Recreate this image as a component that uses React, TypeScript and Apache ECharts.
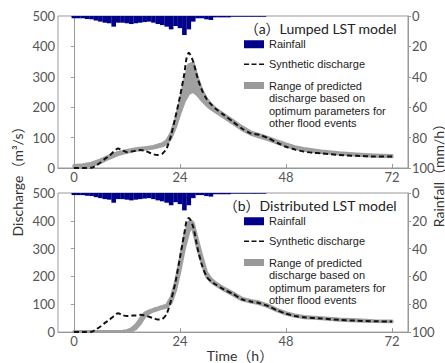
import React, { useEffect, useRef } from 'react';
import * as echarts from 'echarts';

// ---------- data ----------
const RAIN_HOURS = [0,1,2,3,4,5,6,7,8,9,10,11,12,13,14,15,16,17,18,19,20,21,22,23,24,25,26,27,28,29,30,31,32,33,34,35,36,37,38,39,40,41,42,43];
const RAIN = [1.5,1.5,1.5,2,2.2,3,3.7,4.4,4.8,7,4.4,4.4,4.8,5.3,4.8,4.4,4,3.7,4.4,5.3,6,7,8.8,6.6,8,12.5,8.8,3.7,1.5,1.5,2.2,2.6,0.9,0.9,0.9,0.9,0.5,0.5,0.5,0.5,0.5,0.5,0.5,0.5];

// (a) Lumped LST model
const SYN_A_HOURS = [0,2,4,5,6,7,8,9,10,11,12,13,14,15,16,17,18,19,20,21,22,23,24,25,25.5,26,27,28,29,30,31,32,34,36,38,40,42,44,46,48,50,52,54,56,60,64,68,72];
const SYN_A = [0,0,1,8,18,30,40,54,64,58,52,54,57,59,57,51,45,43,47,65,108,169,235,311,362,379,350,295,255,228,210,196,174,152,130,114,109,98,83,70,61,54,50,48,43,40,38,38];
const BAND_A_HOURS = [0,2,4,6,8,10,12,14,16,18,20,21,22,23,24,25,26,27,28,29,30,31,32,34,36,38,40,42,44,46,48,50,52,56,60,64,68,72];
const LOW_A = [0,3,8,18,32,44,52,58,62,66,73,80,100,135,180,220,245,252,240,222,207,195,185,166,146,127,111,102,93,82,72,64,58,51,46,42,39,37];
const UP_A = [8,11,16,27,40,51,58,63,67,71,80,90,115,160,215,285,340,345,295,255,228,210,196,176,156,136,119,110,100,89,79,70,64,56,50,46,43,41];

// (b) Distributed LST model
const SYN_B_HOURS = [0,2,4,5,6,7,8,9,10,11,12,13,14,15,16,17,18,19,20,21,22,23,24,25,25.5,26,27,28,29,30,31,32,34,36,38,40,42,44,46,48,50,52,56,60,64,68,72];
const SYN_B = [0,0,1,10,20,33,44,57,68,61,58,59,60,62,60,55,50,45,47,66,115,181,268,356,400,410,378,300,240,200,183,172,153,137,118,110,104,93,78,66,58,53,49,44,41,39,38];
const BAND_B_HOURS = [0,4,8,10,11,12,13,14,15,16,17,18,19,20,21,22,23,24,25,26,26.5,27,28,29,30,31,32,34,36,38,40,42,44,46,48,50,52,56,60,64,68,72];
const LOW_B = [0,0,0,0,0,1,4,12,30,55,68,76,81,86,90,105,150,220,300,360,380,365,300,245,200,182,170,151,134,116,108,102,91,76,65,57,52,48,43,40,38,37];
const UP_B = [2,2,2,2,3,5,12,25,48,68,76,82,87,92,97,125,180,260,345,395,400,392,330,270,215,192,178,158,141,122,114,108,97,82,70,62,56,52,47,44,41,40];

const X_TICKS = [0, 24, 48, 72];
const RAIN_NAME = 'Rainfall';
const SYN_NAME = 'Synthetic discharge';
const RANGE = 'Range of predicted discharge based on optimum parameters for other flood events';
const RANGE_LINES = 'Range of predicted\ndischarge based on\noptimum parameters for\nother flood events';
const TITLES = ['（a）Lumped LST model', '（b）Distributed LST model'];

// ---------- style ----------
const FONT = 'Lato, "Liberation Sans", "Noto Sans CJK SC", sans-serif';
const LEGEND_FONT = '"Liberation Sans", Arial, sans-serif';
const AXIS_GRAY = '#999';
const LABEL_GRAY = '#555';
const BAND_GRAY = '#a0a0a0';
const NAVY = '#00008b';
const GRID_TOPS = [16, 193];
const GRID_H = 152;
const LEFT = 58;
const RIGHT = 37;
const OFFSET = 177;
const DASH_ICON = 'path://M0,3.2h5v1.6h-5z M7.5,3.2h5v1.6h-5z M15,3.2h5v1.6h-5z M0,0h0.01v0.01h-0.01z M19.99,7.99h0.01v0.01h-0.01z';
const RANGE_ICON = 'path://M0,4.5h20v7h-20z M0,0h0.01v0.01h-0.01z M19.99,53.49h0.01v0.01h-0.01z';

const pairs = (xs: number[], ys: number[]) => xs.map((x, i) => [x, ys[i]]);

function bandSeries(gi: number, xs: number[], lo: number[], hi: number[]) {
  return {
    name: RANGE, type: 'custom', xAxisIndex: gi, yAxisIndex: gi * 2,
    data: xs.map((x, i) => [x, lo[i], hi[i]]),
    encode: { x: 0, y: [1, 2] },
    itemStyle: { color: '#999' },
    clip: true, z: 2,
    renderItem: (params: any, api: any) => {
      if (params.dataIndex !== 0) return null;
      const pts: number[][] = [];
      for (let i = 0; i < xs.length; i++) pts.push(api.coord([xs[i], hi[i]]));
      for (let i = xs.length - 1; i >= 0; i--) pts.push(api.coord([xs[i], lo[i]]));
      return {
        type: 'polygon',
        shape: { points: pts },
        style: { fill: BAND_GRAY, stroke: BAND_GRAY, lineWidth: 3, lineJoin: 'round' },
      };
    },
  };
}

function buildOption() {
  const grids = GRID_TOPS.map((t) => ({
    left: LEFT, right: RIGHT, top: t, height: GRID_H,
    show: true, borderColor: AXIS_GRAY, borderWidth: 1, backgroundColor: 'transparent',
  }));
  const xAxes = GRID_TOPS.map((_, gi) => ({
    type: 'value', gridIndex: gi, min: -3.6, max: 75.6,
    axisLine: { show: true, lineStyle: { color: AXIS_GRAY } },
    axisTick: { show: true, inside: true, length: 4, customValues: X_TICKS, lineStyle: { color: AXIS_GRAY } },
    axisLabel: { customValues: X_TICKS, color: LABEL_GRAY, fontSize: 13, margin: 2, fontFamily: FONT },
    splitLine: { show: false },
    ...(gi === 1 ? {
      name: 'Time（h）', nameLocation: 'middle', nameGap: 4,
      nameTextStyle: { fontSize: 14, color: '#333', fontFamily: FONT, padding: [0, 0, 0, 14] },
    } : {}),
  }));
  const yAxes: any[] = [];
  GRID_TOPS.forEach((_, gi) => {
    yAxes.push({
      type: 'value', gridIndex: gi, min: 0, max: 500, interval: 100, position: 'left',
      axisLine: { show: true, lineStyle: { color: AXIS_GRAY } },
      axisTick: { show: true, length: 3, lineStyle: { color: AXIS_GRAY } },
      axisLabel: { color: LABEL_GRAY, fontSize: 13, margin: 3, fontFamily: FONT },
      splitLine: { show: false },
    });
    yAxes.push({
      type: 'value', gridIndex: gi, min: 0, max: 100, interval: 20, position: 'right', inverse: true,
      axisLine: { show: true, lineStyle: { color: AXIS_GRAY } },
      axisTick: { show: true, length: 3, lineStyle: { color: AXIS_GRAY } },
      axisLabel: { color: LABEL_GRAY, fontSize: 13, margin: 4, fontFamily: FONT },
      splitLine: { show: false },
    });
  });

  const panels = [
    { synX: SYN_A_HOURS, syn: SYN_A, bx: BAND_A_HOURS, lo: LOW_A, hi: UP_A },
    { synX: SYN_B_HOURS, syn: SYN_B, bx: BAND_B_HOURS, lo: LOW_B, hi: UP_B },
  ];
  const series: any[] = [];
  panels.forEach((p, gi) => {
    series.push({
      name: RAIN_NAME, type: 'bar', xAxisIndex: gi, yAxisIndex: gi * 2 + 1,
      data: pairs(RAIN_HOURS, RAIN), barWidth: 4.6, itemStyle: { color: NAVY }, z: 3,
    });
    series.push(bandSeries(gi, p.bx, p.lo, p.hi));
    series.push({
      name: SYN_NAME, type: 'line', xAxisIndex: gi, yAxisIndex: gi * 2,
      data: pairs(p.synX, p.syn), symbol: 'none', showSymbol: false, smooth: 0.25,
      lineStyle: { color: '#111', width: 2, type: [5, 3] }, itemStyle: { color: '#111' }, z: 4,
    });
  });

  const legendText = { fontSize: 11, lineHeight: 12.5, color: '#222', fontFamily: LEGEND_FONT };
  const legends: any[] = [];
  [0, 1].forEach((gi) => {
    legends.push({
      orient: 'vertical', left: 244, top: 38 + gi * OFFSET, padding: 0, itemGap: 7.5,
      itemWidth: 20, itemHeight: 8, selectedMode: false,
      data: [
        { name: RAIN_NAME, icon: 'rect' },
        { name: SYN_NAME, icon: DASH_ICON, itemStyle: { color: '#111' } },
      ],
      textStyle: legendText,
    });
    legends.push({
      orient: 'vertical', left: 244, top: 77.5 + gi * OFFSET, padding: 0,
      itemWidth: 20, itemHeight: 53.5, selectedMode: false,
      data: [{ name: RANGE, icon: RANGE_ICON, itemStyle: { color: '#999' } }],
      formatter: (n: string) => (n === RANGE ? RANGE_LINES : n),
      textStyle: legendText,
    });
  });

  const titles = TITLES.map((t, gi) => ({
    text: t, right: 48, top: 20 + gi * OFFSET, padding: 0,
    textStyle: { fontSize: 14, lineHeight: 16, fontWeight: 'normal', color: '#222', fontFamily: FONT },
  }));

  return {
    animation: false,
    title: titles,
    grid: grids,
    xAxis: xAxes,
    yAxis: yAxes,
    legend: legends,
    series,
    graphic: [
      {
        type: 'text', x: 17, y: 178, rotation: Math.PI / 2,
        style: { text: 'Discharge（m³/s）', fontSize: 14, fill: '#333', fontFamily: FONT, align: 'center', verticalAlign: 'middle' },
      },
      {
        type: 'text', x: 438, y: 172, rotation: Math.PI / 2,
        style: { text: 'Rainfall（mm/h）', fontSize: 14, fill: '#333', fontFamily: FONT, align: 'center', verticalAlign: 'middle' },
      },
    ],
  };
}

export default function App() {
  const ref = useRef<HTMLDivElement>(null);
  useEffect(() => {
    document.body.style.margin = '0';
    const chart = echarts.init(ref.current!, null, { renderer: 'svg' });
    chart.setOption(buildOption() as any);
    return () => chart.dispose();
  }, []);
  return <div ref={ref} style={{ width: 445, height: 363 }} />;
}
